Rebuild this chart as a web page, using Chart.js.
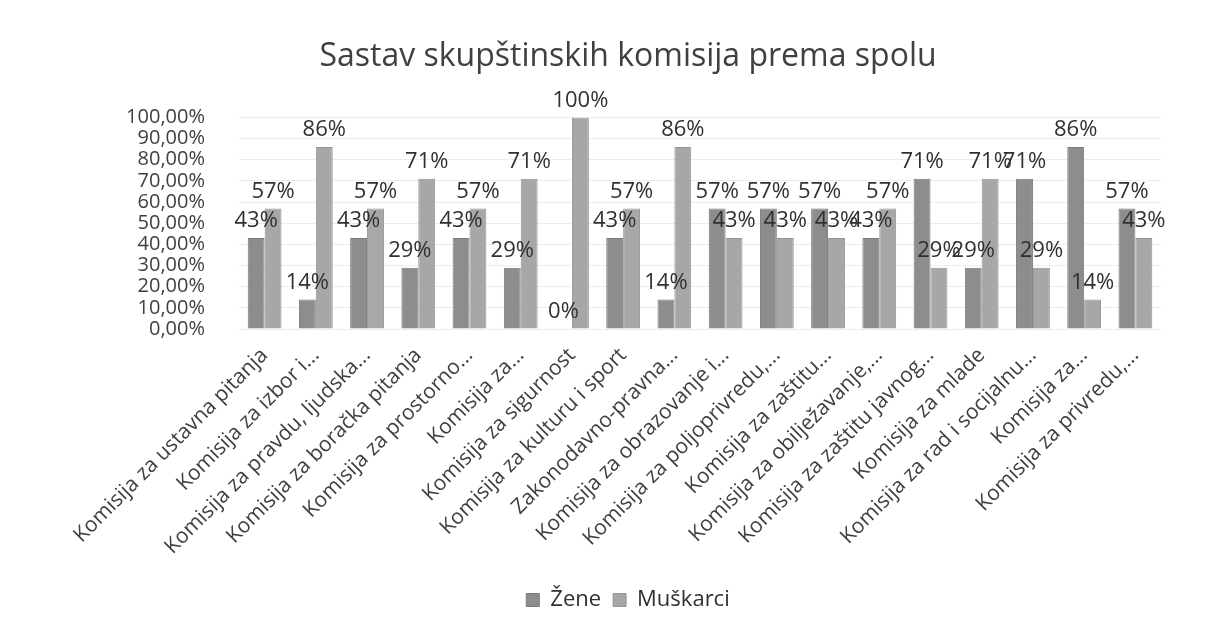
<!DOCTYPE html>
<html>
<head>
<meta charset="utf-8">
<script src="https://cdn.jsdelivr.net/npm/chart.js@4/dist/chart.umd.min.js"></script>
<style>
  html, body { margin: 0; padding: 0; background: #fff; }
  #wrap { width: 1231px; height: 632px; }
</style>
</head>
<body>
<div id="wrap"><canvas id="grafikon"></canvas></div>
<script>
// podaci sa slike
const komisije = [
    'Komisija za ustavna pitanja',
    'Komisija za izbor i...',
    'Komisija za pravdu, ljudska...',
    'Komisija za boračka pitanja',
    'Komisija za prostorno...',
    'Komisija za...',
    'Komisija za sigurnost',
    'Komisija za kulturu i sport',
    'Zakonodavno-pravna...',
    'Komisija za obrazovanje i...',
    'Komisija za poljoprivredu,...',
    'Komisija za zaštitu...',
    'Komisija za obilježavanje,...',
    'Komisija za zaštitu javnog...',
    'Komisija za mlade',
    'Komisija za rad i socijalnu...',
    'Komisija za...',
    'Komisija za privredu,...'
];
const zene =     [43, 14, 43, 29, 43, 29, 0, 43, 14, 57, 57, 57, 43, 71, 29, 71, 86, 57];
const muskarci = [57, 86, 57, 71, 57, 71, 100, 57, 86, 43, 43, 43, 57, 29, 71, 29, 14, 43];
const yTicks = [0, 10, 20, 30, 40, 50, 60, 70, 80, 90, 100];

const FONT = "'Open Sans', sans-serif";

// oznake vrijednosti iznad stubaca
const oznakePlugin = {
    id: 'oznake',
    afterDatasetsDraw(chart) {
        const ctx = chart.ctx;
        ctx.save();
        ctx.font = '22px ' + FONT;
        ctx.fillStyle = '#303030';
        ctx.textAlign = 'center';
        ctx.textBaseline = 'bottom';
        chart.data.datasets.forEach((ds, i) => {
            chart.getDatasetMeta(i).data.forEach((bar, j) => {
                ctx.fillText(Math.round(ds.data[j]) + '%', bar.x, bar.y - 6);
            });
        });
        ctx.restore();
    }
};

new Chart(document.getElementById('grafikon'), {
    type: 'bar',
    data: {
        labels: komisije,
        datasets: [
            {
                label: 'Žene',
                data: zene,
                backgroundColor: '#8d8d8d',
                borderColor: '#7a7a7a',
                borderWidth: 1,
                categoryPercentage: 0.66,
                barPercentage: 1.0,
            },
            {
                label: 'Muškarci',
                data: muskarci,
                backgroundColor: '#a7a7a7',
                borderColor: '#949494',
                borderWidth: 1,
                categoryPercentage: 0.66,
                barPercentage: 1.0,
            },
        ],
    },
    options: {
        responsive: true,
        maintainAspectRatio: false,
        animation: false,
        layout: { padding: { left: 25, right: 0, top: 0, bottom: 11 } },
        scales: {
            x: {
                grid: { display: false },
                border: { display: false },
                ticks: {
                    autoSkip: false,
                    minRotation: 45,
                    maxRotation: 45,
                    padding: 6,
                    color: '#404040',
                    font: { family: FONT, size: 21 },
                },
                afterFit: (scale) => { scale.height = 248; },
            },
            y: {
                min: 0,
                max: 100,
                afterBuildTicks: (scale) => {
                    scale.ticks = yTicks.map((v) => ({ value: v }));
                },
                grid: { color: '#ececec', drawTicks: false },
                border: { display: false },
                ticks: {
                    autoSkip: false,
                    padding: 34,
                    color: '#404040',
                    font: { family: FONT, size: 20 },
                    callback: (v) => v.toFixed(2).replace('.', ',') + '%',
                },
                afterFit: (scale) => { scale.width = 214; },
            },
            // prazna desna osa samo za razmak
            desno: {
                position: 'right',
                display: true,
                grid: { display: false },
                border: { display: false },
                ticks: { display: false },
                afterFit: (scale) => { scale.width = 70; },
            },
        },
        plugins: {
            title: {
                display: true,
                text: 'Sastav skupštinskih komisija prema spolu',
                color: '#404040',
                font: { family: FONT, size: 32, weight: 'normal' },
                padding: { top: 38, bottom: 41 },
            },
            legend: {
                position: 'bottom',
                labels: {
                    color: '#303030',
                    font: { family: FONT, size: 22 },
                    boxWidth: 13,
                    boxHeight: 13,
                    padding: 12,
                },
            },
            tooltip: { enabled: false },
        },
    },
    plugins: [oznakePlugin],
});
</script>
</body>
</html>
